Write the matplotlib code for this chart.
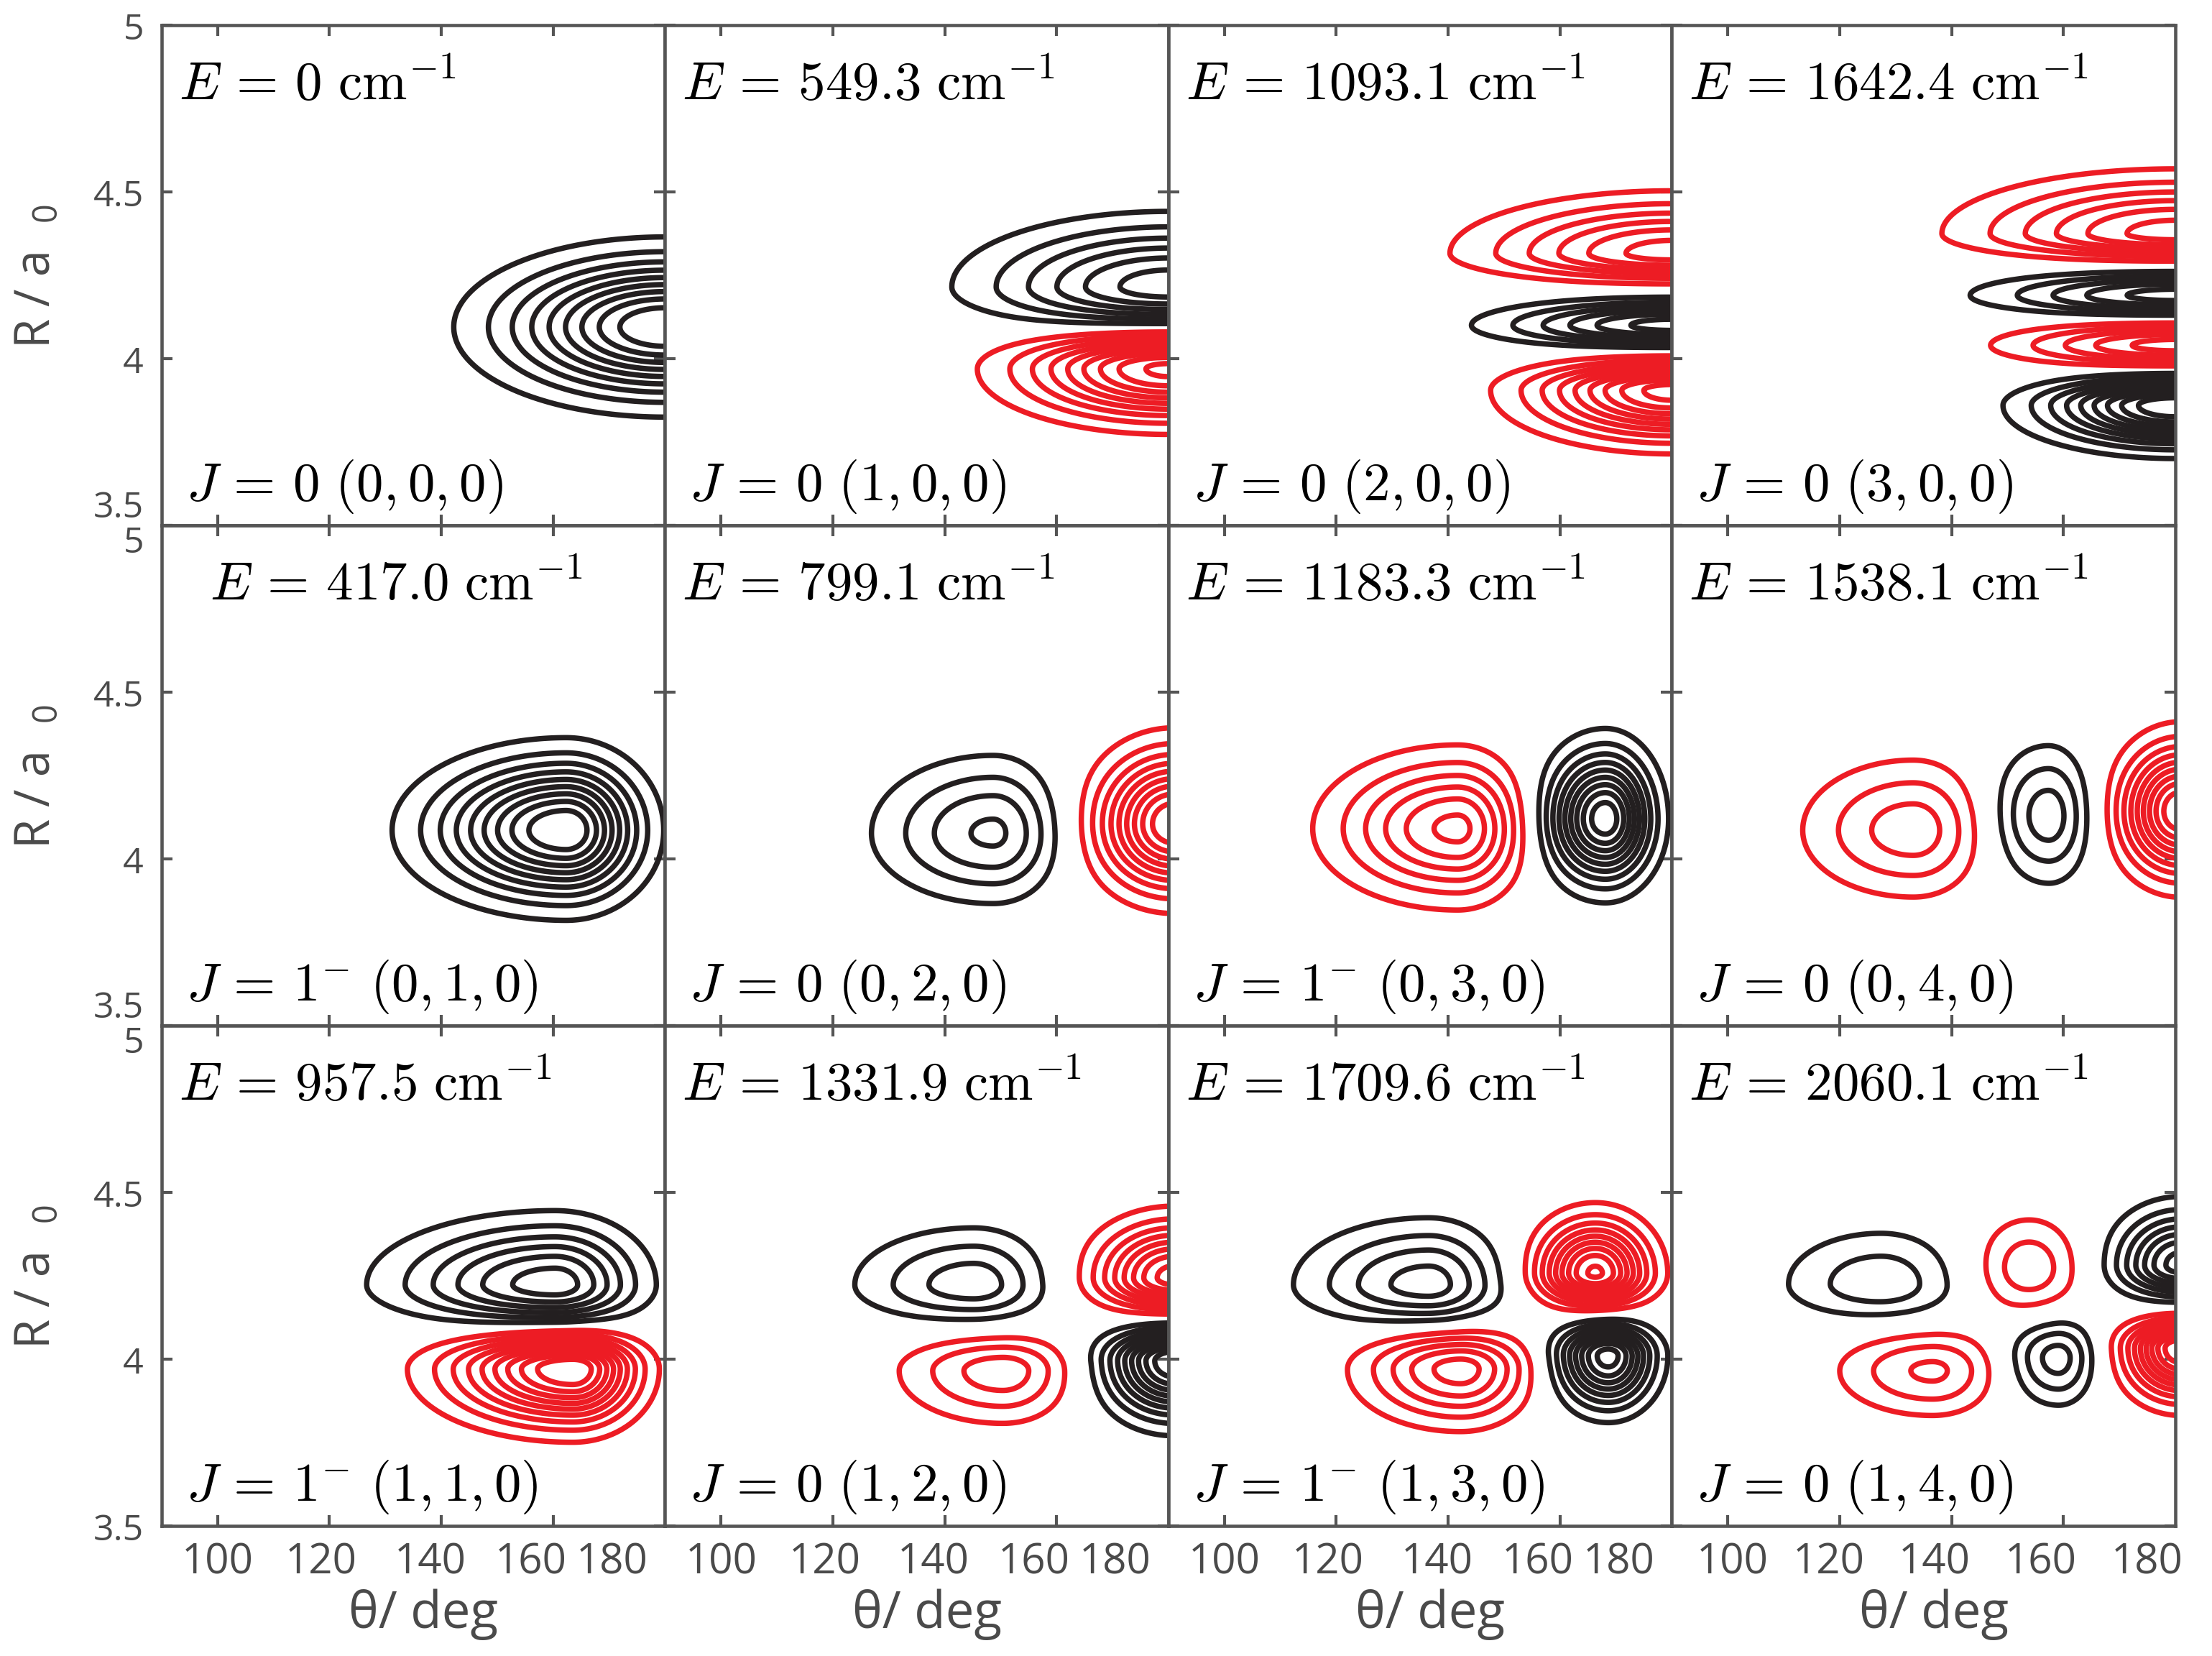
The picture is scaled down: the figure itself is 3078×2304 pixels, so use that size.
import numpy as np
import matplotlib
matplotlib.use('Agg')
import matplotlib.pyplot as plt

plt.rcParams['mathtext.fontset'] = 'cm'
plt.rcParams['font.family'] = ['Open Sans', 'DejaVu Sans']

# axis ranges / ticks
THETA_LIM = (90, 180)
R_LIM = (3.5, 5.0)
X_TICKS = [100, 120, 140, 160]
X_TICK_LABELS = ['100', '120', '140', '160', '180']
# where the tick labels sit in the picture (they are squeezed a bit to the left)
X_LABEL_POS_INNER = [100.0, 118.5, 138.0, 156.0, 170.5]
X_LABEL_POS_LAST = [100.8, 118.0, 137.0, 156.0, 175.0]
Y_TICKS = [3.5, 4.0, 4.5, 5.0]
Y_TICK_LABELS = ['3.5', '4', '4.5', '5']

LEVELS = [0.1, 0.2, 0.3, 0.4, 0.5, 0.6, 0.7, 0.8, 0.9]

ENERGIES = ['0', '549.3', '1093.1', '1642.4',
            '417.0', '799.1', '1183.3', '1538.1',
            '957.5', '1331.9', '1709.6', '2060.1']
J_VALUES = ['0', '0', '0', '0',
            '1^{-}', '0', '1^{-}', '0',
            '1^{-}', '0', '1^{-}', '0']
QUANTA = [(0, 0, 0), (1, 0, 0), (2, 0, 0), (3, 0, 0),
          (0, 1, 0), (0, 2, 0), (0, 3, 0), (0, 4, 0),
          (1, 1, 0), (1, 2, 0), (1, 3, 0), (1, 4, 0)]

# wavefunction lobes (one inner list per panel)
# centre theta (deg), centre R (a0), signed amplitude, widths left/right (deg), down/up (a0)
LOBE_THETA = [
    [180],
    [180, 180],
    [180, 180, 180],
    [180, 180, 180, 180],
    [162.3],
    [148.7, 181],
    [141.7, 168.1],
    [133.2, 157.3, 181],
    [160.3, 163.5],
    [145.2, 150.4, 181, 181],
    [136.5, 166.3, 142.2, 168.6],
    [127.4, 153.8, 181, 136.6, 159.0, 181],
]
LOBE_R = [
    [4.095],
    [4.215, 3.970],
    [4.316, 4.100, 3.905],
    [4.375, 4.190, 4.040, 3.860],
    [4.086],
    [4.077, 4.105],
    [4.091, 4.120],
    [4.086, 4.129, 4.143],
    [4.223, 3.971],
    [4.223, 3.966, 4.244, 3.995],
    [4.223, 4.258, 3.971, 4.010],
    [4.225, 4.273, 4.282, 3.966, 4.005, 4.033],
]
LOBE_AMP = [
    [1.0],
    [0.66, -0.93],
    [-0.65, 0.65, -0.95],
    [-0.65, 0.55, -0.55, 1.0],
    [1.0],
    [0.42, -1.0],
    [-0.63, 0.97],
    [-0.36, 0.36, -1.0],
    [0.66, -1.0],
    [0.36, -0.36, -0.85, 1.0],
    [0.45, -0.92, -0.55, 0.85],
    [0.27, -0.27, 0.75, -0.32, 0.35, -1.0],
]
LOBE_W_LEFT = [
    [24.9],
    [28.2, 22.9],
    [29.0, 26.2, 21.6],
    [30.5, 28.1, 25.3, 20.3],
    [20.5],
    [18.2, 11.9],
    [19.1, 9.1],
    [17.5, 9.3, 9.4],
    [24.5, 19.5],
    [18.8, 16.4, 12.3, 10.7],
    [19.7, 9.2, 15.5, 8.2],
    [16.6, 8.9, 10.2, 15.4, 8.2, 8.7],
]
LOBE_W_RIGHT = [
    [24.9],
    [28.2, 22.9],
    [29.0, 26.2, 21.6],
    [30.5, 28.1, 25.3, 20.3],
    [11.5],
    [10.5, 11.9],
    [10.1, 7.5],
    [11.4, 7.1, 9.4],
    [13.2, 10.2],
    [11.8, 11.1, 12.3, 10.7],
    [11.5, 8.7, 10.9, 7.3],
    [12.9, 8.6, 10.2, 10.7, 6.2, 8.7],
]
LOBE_W_DOWN = [
    [0.178],
    [0.100, 0.132],
    [0.070, 0.055, 0.127],
    [0.065, 0.052, 0.055, 0.105],
    [0.178],
    [0.176, 0.177],
    [0.180, 0.167],
    [0.177, 0.180, 0.170],
    [0.100, 0.145],
    [0.100, 0.140, 0.085, 0.148],
    [0.104, 0.085, 0.144, 0.137],
    [0.101, 0.128, 0.085, 0.125, 0.129, 0.133],
]
LOBE_W_UP = [
    [0.178],
    [0.165, 0.090],
    [0.137, 0.065, 0.075],
    [0.142, 0.060, 0.058, 0.070],
    [0.183],
    [0.195, 0.190],
    [0.185, 0.180],
    [0.186, 0.187, 0.177],
    [0.162, 0.090],
    [0.151, 0.095, 0.147, 0.085],
    [0.164, 0.142, 0.099, 0.085],
    [0.153, 0.146, 0.145, 0.108, 0.106, 0.075],
]

BLACK = '#231f20'
RED = '#ed1c24'
GRAY = '#555555'
LABEL_GRAY = '#4a4a4a'


def wavefunction(T, R, k):
    psi = np.zeros_like(T)
    lobes = zip(LOBE_THETA[k], LOBE_R[k], LOBE_AMP[k], LOBE_W_LEFT[k],
                LOBE_W_RIGHT[k], LOBE_W_DOWN[k], LOBE_W_UP[k])
    for tc, rc, amp, wl, wr, wd, wu in lobes:
        wt = np.where(T < tc, wl, wr)
        wrad = np.where(R < rc, wd, wu)
        psi += amp * np.exp(-((T - tc) / wt) ** 2 - ((R - rc) / wrad) ** 2)
    return psi


theta = np.linspace(THETA_LIM[0], THETA_LIM[1], 451)
rr = np.linspace(R_LIM[0], R_LIM[1], 601)
T, R = np.meshgrid(theta, rr)

fig = plt.figure(figsize=(10.26, 7.683), dpi=300)
axes = fig.subplots(3, 4)
fig.subplots_adjust(left=0.0731, right=0.9834, bottom=0.0785, top=0.9844,
                    wspace=0, hspace=0)

for k in range(12):
    row, col = divmod(k, 4)
    ax = axes[row, col]
    psi = wavefunction(T, R, k)

    ax.contour(T, R, psi, levels=LEVELS, colors=BLACK,
               linewidths=1.8, linestyles='solid')
    if psi.min() < -LEVELS[0]:
        neg = sorted(-v for v in LEVELS)
        ax.contour(T, R, psi, levels=neg, colors=RED,
                   linewidths=1.8, linestyles='solid')

    ax.set_xlim(*THETA_LIM)
    ax.set_ylim(*R_LIM)

    for sp in ax.spines.values():
        sp.set_color(GRAY)
        sp.set_linewidth(1.1)

    ax.xaxis.remove_overlapping_locs = False
    ax.set_xticks(X_TICKS)
    ax.set_xticklabels([])
    ax.set_yticks(Y_TICKS)
    ax.tick_params(which='major', direction='in', top=True, right=True,
                   length=3.5, width=1.0, color=GRAY)

    if row == 2:
        pos = X_LABEL_POS_LAST if col == 3 else X_LABEL_POS_INNER
        ax.set_xticks(pos, minor=True)
        ax.set_xticklabels(X_TICK_LABELS, minor=True)
        ax.tick_params(axis='x', which='minor', length=0, pad=5,
                       labelsize=14, labelcolor=LABEL_GRAY)
        ax.set_xlabel('θ/ deg', fontsize=17, color=LABEL_GRAY)
        ax.xaxis.set_label_coords(0.52, -0.125)
    else:
        ax.tick_params(axis='x', which='minor', bottom=False, top=False)

    if col == 0:
        ax.set_yticklabels(Y_TICK_LABELS)
        ax.tick_params(axis='y', pad=6, labelsize=12, labelcolor=LABEL_GRAY)
        labels = ax.get_yticklabels()
        if row > 0:
            labels[-1].set_va('top')
        if row < 2:
            labels[0].set_va('bottom')
        ax.set_ylabel(r'R / a  $_{\mathregular{0}}$', fontsize=16,
                      color=LABEL_GRAY)
        ax.yaxis.set_label_coords(-0.2, 0.5)
    else:
        ax.set_yticklabels([])

    ex = 0.096 if k == 4 else 0.034
    ax.text(ex, 0.852, r'$E\,=\,%s\ \mathrm{cm}^{-1}$' % ENERGIES[k],
            transform=ax.transAxes, fontsize=18, va='baseline', color='black')
    q = QUANTA[k]
    ax.text(0.048, 0.052,
            r'$J\,=\,%s\ (%d,%d,%d)$' % (J_VALUES[k], q[0], q[1], q[2]),
            transform=ax.transAxes, fontsize=18, va='baseline', color='black')

fig.savefig('out.png', dpi=300)
